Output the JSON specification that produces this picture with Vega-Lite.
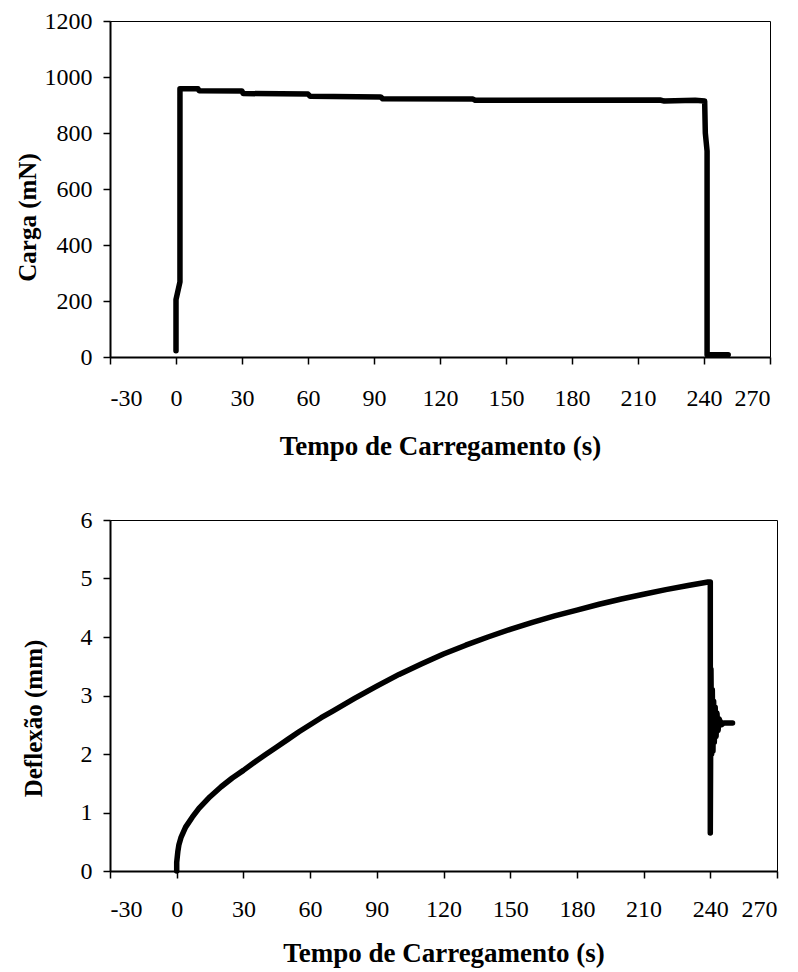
{
  "$schema": "https://vega.github.io/schema/vega-lite/v6.json",
  "background": "white",
  "padding": {"left": 14, "top": 8, "right": 5, "bottom": 5},
  "spacing": 47,
  "config": {
    "view": {"stroke": "#000", "strokeWidth": 1},
    "axis": {
      "grid": false,
      "domainColor": "#000",
      "domainWidth": 2,
      "tickColor": "#000",
      "tickWidth": 1.5,
      "tickSize": 7,
      "labelFont": "Liberation Serif",
      "labelFontSize": 24,
      "labelColor": "#000",
      "labelExpr": "'' + datum.value",
      "titleFont": "Liberation Serif",
      "titleFontWeight": "bold",
      "titleColor": "#000"
    },
    "axisX": {"titleFontSize": 27},
    "axisY": {"titleFontSize": 25}
  },
  "datasets": {
    "carga": [
      {"i": 1, "t": 0, "v": 22}, {"i": 2, "t": 0, "v": 205}, {"i": 3, "t": 1.8, "v": 268},
      {"i": 4, "t": 1.8, "v": 958}, {"i": 5, "t": 10, "v": 958}, {"i": 6, "t": 10.5, "v": 951},
      {"i": 7, "t": 30, "v": 950}, {"i": 8, "t": 30.5, "v": 941}, {"i": 9, "t": 60, "v": 939},
      {"i": 10, "t": 61, "v": 931}, {"i": 11, "t": 93, "v": 929}, {"i": 12, "t": 94, "v": 922},
      {"i": 13, "t": 135, "v": 921}, {"i": 14, "t": 136, "v": 917}, {"i": 15, "t": 220, "v": 918},
      {"i": 16, "t": 222, "v": 914}, {"i": 17, "t": 236, "v": 917}, {"i": 18, "t": 240.3, "v": 914},
      {"i": 19, "t": 240.6, "v": 800}, {"i": 20, "t": 241.4, "v": 736}, {"i": 21, "t": 241.4, "v": 8},
      {"i": 22, "t": 251, "v": 8}
    ],
    "deflexao": [
      {"i": 1, "t": 0, "d": 0}, {"i": 2, "t": 0, "d": 0.15}, {"i": 3, "t": 0.5, "d": 0.33},
      {"i": 4, "t": 1, "d": 0.45}, {"i": 5, "t": 2, "d": 0.58}, {"i": 6, "t": 4, "d": 0.75},
      {"i": 7, "t": 7, "d": 0.92}, {"i": 8, "t": 10, "d": 1.07}, {"i": 9, "t": 15, "d": 1.27},
      {"i": 10, "t": 20, "d": 1.44}, {"i": 11, "t": 25, "d": 1.59}, {"i": 12, "t": 30, "d": 1.72},
      {"i": 13, "t": 35, "d": 1.86}, {"i": 14, "t": 40, "d": 1.99}, {"i": 15, "t": 45, "d": 2.12},
      {"i": 16, "t": 50, "d": 2.25}, {"i": 17, "t": 55, "d": 2.38}, {"i": 18, "t": 60, "d": 2.5},
      {"i": 19, "t": 65, "d": 2.62}, {"i": 20, "t": 70, "d": 2.73}, {"i": 21, "t": 80, "d": 2.95},
      {"i": 22, "t": 90, "d": 3.16}, {"i": 23, "t": 100, "d": 3.36}, {"i": 24, "t": 110, "d": 3.54},
      {"i": 25, "t": 120, "d": 3.71}, {"i": 26, "t": 130, "d": 3.86}, {"i": 27, "t": 140, "d": 4.0},
      {"i": 28, "t": 150, "d": 4.13}, {"i": 29, "t": 160, "d": 4.25}, {"i": 30, "t": 170, "d": 4.36},
      {"i": 31, "t": 180, "d": 4.46}, {"i": 32, "t": 190, "d": 4.56}, {"i": 33, "t": 200, "d": 4.65},
      {"i": 34, "t": 210, "d": 4.73}, {"i": 35, "t": 220, "d": 4.81}, {"i": 36, "t": 230, "d": 4.88},
      {"i": 37, "t": 239, "d": 4.94}, {"i": 38, "t": 240, "d": 4.94},
      {"i": 39, "t": 240, "d": 0.65}, {"i": 40, "t": 240.3, "d": 3.45},
      {"i": 41, "t": 240.6, "d": 2.0}, {"i": 42, "t": 240.9, "d": 3.1}, {"i": 43, "t": 241.2, "d": 2.05},
      {"i": 44, "t": 241.5, "d": 2.9}, {"i": 45, "t": 241.8, "d": 2.2}, {"i": 46, "t": 242.2, "d": 2.8},
      {"i": 47, "t": 242.6, "d": 2.3}, {"i": 48, "t": 243, "d": 2.7}, {"i": 49, "t": 243.5, "d": 2.4},
      {"i": 50, "t": 244, "d": 2.6}, {"i": 51, "t": 245, "d": 2.5}, {"i": 52, "t": 246, "d": 2.53},
      {"i": 53, "t": 250, "d": 2.53}
    ]
  },
  "vconcat": [
    {
      "width": 660,
      "height": 336,
      "data": {"name": "carga"},
      "mark": {"type": "line", "color": "#000", "strokeWidth": 5.5, "strokeCap": "round", "strokeJoin": "round"},
      "encoding": {
        "x": {
          "field": "t", "type": "quantitative",
          "scale": {"domain": [-30, 270], "nice": false, "zero": false},
          "axis": {"values": [-30, 0, 30, 60, 90, 120, 150, 180, 210, 240, 270], "title": "Tempo de Carregamento (s)", "labelPadding": 22, "titleY": 76, "titleBaseline": "top"}
        },
        "y": {
          "field": "v", "type": "quantitative",
          "scale": {"domain": [0, 1200], "nice": false},
          "axis": {"values": [0, 200, 400, 600, 800, 1000, 1200], "title": "Carga (mN)", "labelPadding": 11, "titleX": -83, "titleY": 196, "titleBaseline": "middle"}
        },
        "order": {"field": "i", "type": "quantitative"}
      }
    },
    {
      "width": 667,
      "height": 351,
      "data": {"name": "deflexao"},
      "mark": {"type": "line", "color": "#000", "strokeWidth": 5.5, "strokeCap": "round", "strokeJoin": "round"},
      "encoding": {
        "x": {
          "field": "t", "type": "quantitative",
          "scale": {"domain": [-30, 270], "nice": false, "zero": false},
          "axis": {"values": [-30, 0, 30, 60, 90, 120, 150, 180, 210, 240, 270], "title": "Tempo de Carregamento (s)", "labelPadding": 19, "titleY": 69, "titleBaseline": "top"}
        },
        "y": {
          "field": "d", "type": "quantitative",
          "scale": {"domain": [0, 6], "nice": false},
          "axis": {"values": [0, 1, 2, 3, 4, 5, 6], "title": "Deflexão (mm)", "labelPadding": 11, "titleX": -77, "titleY": 198, "titleBaseline": "middle"}
        },
        "order": {"field": "i", "type": "quantitative"}
      }
    }
  ]
}
